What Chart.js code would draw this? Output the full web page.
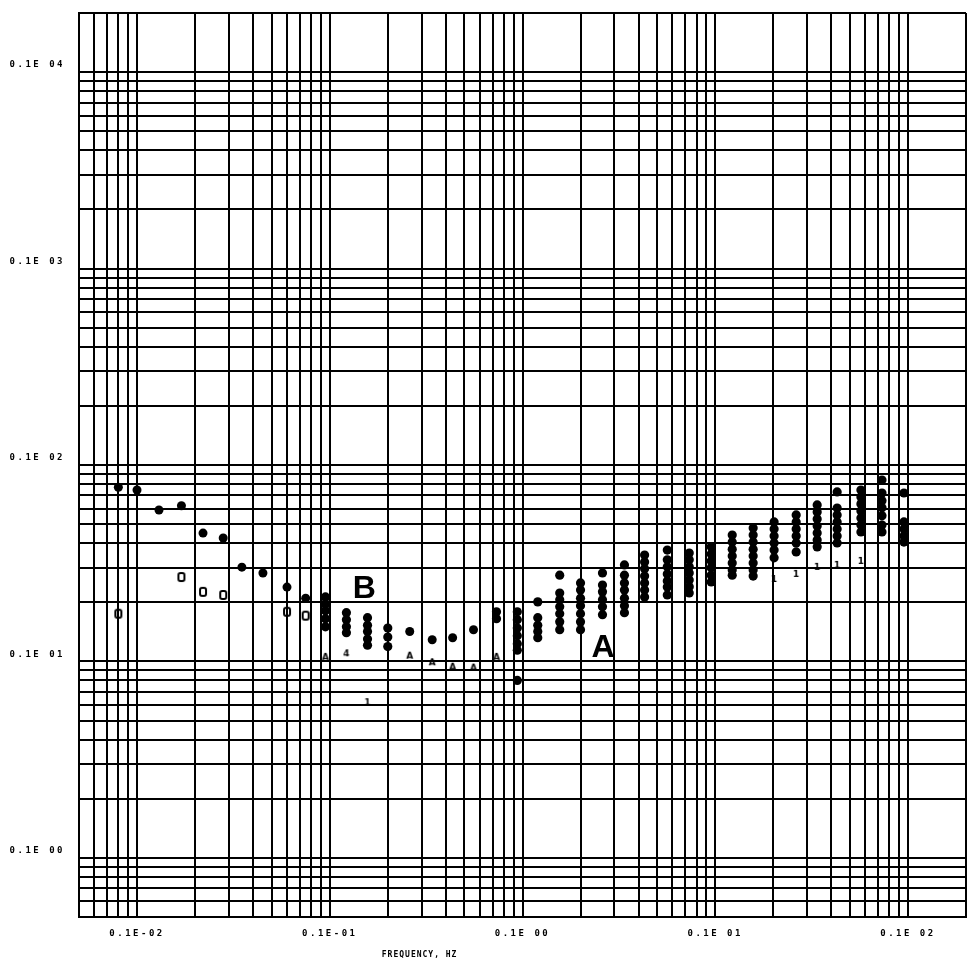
<!DOCTYPE html>
<html>
<head>
<meta charset="utf-8">
<script src="https://cdn.jsdelivr.net/npm/chart.js@4.4.1/dist/chart.umd.min.js"></script>
<style>
html,body{margin:0;padding:0;background:#fff;}
canvas{display:block;}
</style>
</head>
<body>
<canvas id="c" width="967" height="964"></canvas>
<script>
// ---- data ----
const xTickValues = [0.001, 0.01, 0.1, 1, 10];
const xTickLabels = ['0.1E-02', '0.1E-01', '0.1E 00', '0.1E 01', '0.1E 02'];
const yTickValues = [0.1, 1, 10, 100, 1000];
const yTickLabels = ['0.1E 00', '0.1E 01', '0.1E 02', '0.1E 03', '0.1E 04'];
const xTitle = 'FREQUENCY, HZ';

// filled dot columns (frequency, values in each column)
const dotFreq = [0.0008, 0.001, 0.0013, 0.0017, 0.0022, 0.0028, 0.0035, 0.0045, 0.006, 0.0075,
  0.0095, 0.0122, 0.0157, 0.02, 0.026, 0.034, 0.0434, 0.0557, 0.0733, 0.094,
  0.12, 0.156, 0.2, 0.26, 0.338, 0.43, 0.564, 0.733, 0.953, 1.225,
  1.573, 2.02, 2.63, 3.38, 4.29, 5.7, 7.33, 9.53];
const dotValues = [
  [7.7], [7.46], [5.9], [6.2], [4.5], [4.25], [3.02], [2.82], [2.39], [2.1],
  [2.13, 1.96, 1.81, 1.65, 1.5],
  [1.77, 1.63, 1.5, 1.4],
  [1.67, 1.53, 1.42, 1.3, 1.21],
  [1.48, 1.33, 1.19],
  [1.42],
  [1.29],
  [1.32],
  [1.45],
  [1.79, 1.65],
  [1.79, 1.63, 1.48, 1.35, 1.23, 1.14, 0.8],
  [2.01, 1.67, 1.53, 1.42, 1.32],
  [2.75, 2.23, 2.06, 1.9, 1.75, 1.59, 1.45],
  [2.51, 2.31, 2.1, 1.92, 1.75, 1.59, 1.45],
  [2.82, 2.45, 2.26, 2.06, 1.9, 1.73],
  [3.1, 2.75, 2.51, 2.31, 2.1, 1.92, 1.77],
  [3.48, 3.21, 2.96, 2.72, 2.51, 2.31, 2.13],
  [3.69, 3.29, 3.03, 2.79, 2.57, 2.39, 2.18],
  [3.56, 3.29, 3.03, 2.82, 2.6, 2.4, 2.23],
  [3.83, 3.52, 3.25, 3.0, 2.75, 2.54],
  [4.4, 4.05, 3.73, 3.44, 3.17, 2.92, 2.75],
  [4.78, 4.4, 4.05, 3.73, 3.44, 3.17, 2.92, 2.72],
  [5.13, 4.72, 4.35, 4.01, 3.69, 3.37],
  [5.57, 5.13, 4.72, 4.35, 4.01, 3.61],
  [6.26, 5.77, 5.31, 4.89, 4.51, 4.15, 3.83],
  [7.29, 6.04, 5.57, 5.13, 4.72, 4.35, 4.01],
  [7.46, 6.88, 6.34, 5.84, 5.38, 4.95, 4.56],
  [8.39, 7.2, 6.57, 6.05, 5.51, 4.95, 4.56],
  [7.2, 5.13, 4.72, 4.35, 4.05]
];

// open "0" markers
const openFreq = [0.0008, 0.0017, 0.0022, 0.0028, 0.006, 0.0075];
const openValues = [1.75, 2.69, 2.26, 2.18, 1.79, 1.71];

// small character markers
const glyphFreq = [0.0095, 0.0122, 0.0157, 0.026, 0.034, 0.0434, 0.0557, 0.0733, 2.02, 2.63, 3.38, 4.29, 5.7];
const glyphValues = [1.055, 1.10, 0.62, 1.07, 0.99, 0.94, 0.93, 1.055, 2.63, 2.79, 3.03, 3.10, 3.25];
const glyphChars = ['A', '4', '1', 'A', 'A', 'A', 'A', 'A', '1', '1', '1', '1', '1'];

// curve labels
const curveLabels = ['B', 'A'];
const curveLabelFreq = [0.0151, 0.2614];
const curveLabelValues = [2.10, 1.054];

// ---- build ----
const dotPoints = [];
const dotRadius = [];
dotFreq.forEach((f, i) => {
  dotValues[i].forEach(v => {
    dotPoints.push({x: f, y: v});
    dotRadius.push(dotValues[i].length === 1 ? 4.5 : 4.6);
  });
});
const openPoints = openFreq.map((f, i) => ({x: f, y: openValues[i]}));
const glyphPoints = glyphFreq.map((f, i) => ({x: f, y: glyphValues[i]}));

function makeOpenMarker() {
  const c = document.createElement('canvas');
  c.width = 10; c.height = 12;
  const g = c.getContext('2d');
  g.strokeStyle = '#000';
  g.lineWidth = 2;
  g.beginPath();
  if (g.roundRect) g.roundRect(2, 2, 6, 8, 2); else g.rect(2, 2, 6, 8);
  g.stroke();
  return c;
}
function makeGlyph(ch) {
  const c = document.createElement('canvas');
  c.width = 12; c.height = 12;
  const g = c.getContext('2d');
  g.fillStyle = '#000';
  g.font = 'bold 9px "DejaVu Sans"';
  g.textAlign = 'center';
  g.textBaseline = 'middle';
  g.fillText(ch, 6, 6.5);
  return c;
}
const openImg = makeOpenMarker();
const glyphImgs = glyphChars.map(makeGlyph);

function gridValues(minV, maxDecade, edge) {
  const out = [];
  for (let e = -5; e <= 4; e++) {
    for (let m = 1; m <= 9; m++) {
      const v = parseFloat((m * Math.pow(10, e)).toPrecision(3));
      if (v >= minV * 0.999 && v <= maxDecade * 1.001) out.push(v);
    }
  }
  out.push(edge);
  return out;
}
const xGrid = gridValues(0.0005, 10, 20);
const yGrid = gridValues(0.05, 1000, 2000);

function labelFor(values, labels, v) {
  for (let i = 0; i < values.length; i++) {
    if (Math.abs(v / values[i] - 1) < 1e-6) return labels[i];
  }
  return '';
}

const plotterFont = {family: '"DejaVu Sans Mono", monospace', size: 9, weight: 'bold'};

const textPlugin = {
  id: 'plotterText',
  beforeDraw(chart) {
    const ctx = chart.ctx;
    ctx.save();
    ctx.fillStyle = '#fff';
    ctx.fillRect(0, 0, chart.width, chart.height);
    ctx.restore();
    ctx.letterSpacing = '2.5px';
  },
  afterDraw(chart) {
    const ctx = chart.ctx;
    ctx.letterSpacing = '0px';
    const xs = chart.scales.x, ys = chart.scales.y;
    ctx.save();
    ctx.fillStyle = '#000';
    ctx.font = 'bold 32px "Liberation Sans", Arial, sans-serif';
    ctx.textAlign = 'center';
    ctx.textBaseline = 'alphabetic';
    curveLabels.forEach((t, i) => {
      ctx.fillText(t, xs.getPixelForValue(curveLabelFreq[i]), ys.getPixelForValue(curveLabelValues[i]));
    });
    ctx.font = 'bold 8px "DejaVu Sans Mono", monospace';
    ctx.letterSpacing = '1px';
    ctx.textBaseline = 'middle';
    const ca = chart.chartArea;
    ctx.fillText(xTitle, ca.left + 0.384 * (ca.right - ca.left), 955);
    ctx.letterSpacing = '0px';
    ctx.restore();
  }
};

new Chart(document.getElementById('c'), {
  type: 'scatter',
  data: {
    datasets: [
      {
        label: 'dots',
        data: dotPoints,
        pointRadius: dotRadius,
        pointBackgroundColor: '#000',
        pointBorderWidth: 0,
        pointStyle: 'circle'
      },
      {
        label: 'open',
        data: openPoints,
        pointRadius: 4,
        pointStyle: openImg
      },
      {
        label: 'glyphs',
        data: glyphPoints,
        pointRadius: 4,
        pointStyle: (ctx) => glyphImgs[ctx.dataIndex]
      }
    ]
  },
  options: {
    responsive: false,
    animation: false,
    devicePixelRatio: 1,
    layout: {autoPadding: false, padding: {top: 13, right: 1, left: 0, bottom: 0}},
    plugins: {legend: {display: false}, tooltip: {enabled: false}},
    scales: {
      x: {
        type: 'logarithmic',
        min: 0.0005,
        max: 20,
        afterBuildTicks: (s) => { s.ticks = xGrid.map(v => ({value: v, major: false})); },
        afterFit: (s) => { s.height = 47; s.paddingLeft = 0; s.paddingRight = 0; },
        grid: {color: '#000', lineWidth: 2, drawTicks: false},
        border: {color: '#000', width: 2},
        ticks: {
          autoSkip: false,
          maxRotation: 0,
          minRotation: 0,
          padding: 11,
          color: '#000',
          font: plotterFont,
          callback: (v) => labelFor(xTickValues, xTickLabels, v)
        }
      },
      y: {
        type: 'logarithmic',
        min: 0.05,
        max: 2000,
        afterBuildTicks: (s) => { s.ticks = yGrid.map(v => ({value: v, major: false})); },
        afterFit: (s) => { s.width = 79; s.paddingTop = 0; s.paddingBottom = 0; },
        grid: {color: '#000', lineWidth: 2, drawTicks: false},
        border: {color: '#000', width: 2},
        ticks: {
          autoSkip: false,
          padding: 14,
          labelOffset: -7,
          color: '#000',
          font: plotterFont,
          callback: (v) => labelFor(yTickValues, yTickLabels, v)
        }
      }
    }
  },
  plugins: [textPlugin]
});
</script>
</body>
</html>
